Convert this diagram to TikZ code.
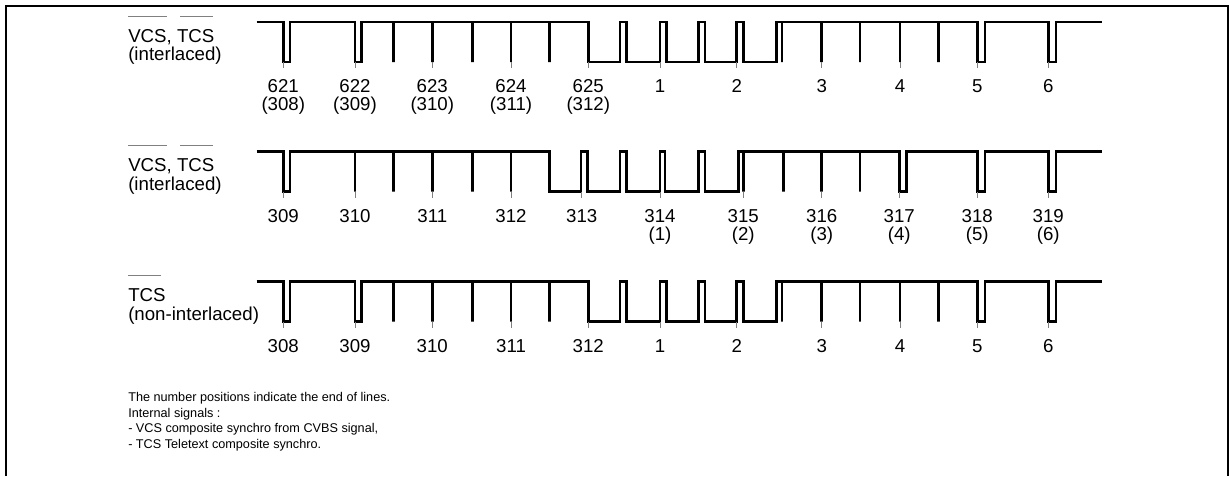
\documentclass[tikz,border=0pt]{standalone}
\usepackage{fontspec}
\setmainfont{Liberation Sans}

\begin{document}
\begin{tikzpicture}[x=0.75pt,y=0.75pt,yscale=-1,xscale=1,
  wave/.style={line width=2.2pt},
  frame/.style={line width=1.6pt},
  tick/.style={color={rgb, 255:red, 128; green, 128; blue, 128}, line width=0.6pt},
  ovl/.style={color={rgb, 255:red, 128; green, 128; blue, 128}, line width=0.75pt},
  num/.style={anchor=base, inner sep=0pt, font=\fontsize{14}{16}\selectfont},
  sig/.style={anchor=base west, inner sep=0pt, font=\fontsize{14}{16}\selectfont},
  note/.style={anchor=base west, inner sep=0pt, font=\fontsize{9.5}{11}\selectfont}]
\useasboundingbox (0,0) rectangle (1229,476);

%Shape: Frame
\draw [frame] (6,476) -- (6,6) -- (1228,6) -- (1228,476) ;

%Straight Lines: VCS, TCS interlaced (621...6)
\draw [wave] (256.7,22) -- (283.3,22) -- (283.3,62) -- (290,62) -- (290,22) -- (355,22) -- (355,62) -- (361.7,62) -- (361.7,22)
  -- (393.3,22) -- (393.3,62) -- (393.3,22) -- (432.3,22) -- (432.3,62) -- (432.3,22) -- (472.3,22) -- (472.3,62) -- (472.3,22)
  -- (511,22) -- (511,62) -- (511,22) -- (549.3,22) -- (549.3,62) -- (549.3,22)
  -- (588.3,22) -- (588.3,62) -- (620,62) -- (620,22) -- (626.7,22) -- (626.7,62) -- (660,62) -- (660,22) -- (666.7,22) -- (666.7,62)
  -- (698.3,62) -- (698.3,22) -- (705,22) -- (705,62) -- (736.7,62) -- (736.7,22) -- (743.3,22) -- (743.3,62) -- (776.7,62) -- (776.7,22)
  -- (782,22) -- (782,62) -- (782,22) -- (821.7,22) -- (821.7,62) -- (821.7,22) -- (860,22) -- (860,62) -- (860,22)
  -- (900,22) -- (900,62) -- (900,22) -- (938.3,22) -- (938.3,62) -- (938.3,22)
  -- (977.3,22) -- (977.3,62) -- (985,62) -- (985,22) -- (1048.3,22) -- (1048.3,62) -- (1056,62) -- (1056,22) -- (1101.7,22) ;
\draw [tick] (283.3,62) -- ++(0,6) (355,62) -- ++(0,6) (432.3,62) -- ++(0,6) (511,62) -- ++(0,6) (588.3,62) -- ++(0,6) (660,62) -- ++(0,6)
  (736.7,62) -- ++(0,6) (821.7,62) -- ++(0,6) (900,62) -- ++(0,6) (977.3,62) -- ++(0,6) (1048.3,62) -- ++(0,6) ;

%Straight Lines: VCS, TCS interlaced (309...319)
\draw [wave] (256.7,151.7) -- (283.3,151.7) -- (283.3,191.7) -- (290,191.7) -- (290,151.7)
  -- (355,151.7) -- (355,191.7) -- (355,151.7) -- (393.3,151.7) -- (393.3,191.7) -- (393.3,151.7)
  -- (432.3,151.7) -- (432.3,191.7) -- (432.3,151.7) -- (472.3,151.7) -- (472.3,191.7) -- (472.3,151.7)
  -- (511,151.7) -- (511,191.7) -- (511,151.7)
  -- (549.3,151.7) -- (549.3,191.7) -- (581,191.7) -- (581,151.7) -- (587.7,151.7) -- (587.7,191.7) -- (620,191.7) -- (620,151.7)
  -- (626.7,151.7) -- (626.7,191.7) -- (660,191.7) -- (660,151.7) -- (665,151.7) -- (665,191.7) -- (698.3,191.7) -- (698.3,151.7)
  -- (705,151.7) -- (705,191.7) -- (738.3,191.7) -- (738.3,151.7) -- (743.3,151.7) -- (743.3,191.7) -- (743.3,151.7)
  -- (783.3,151.7) -- (783.3,191.7) -- (783.3,151.7) -- (821.7,151.7) -- (821.7,191.7) -- (821.7,151.7) -- (860,151.7) -- (860,191.7) -- (860,151.7)
  -- (899.3,151.7) -- (899.3,191.7) -- (906.7,191.7) -- (906.7,151.7) -- (977.3,151.7) -- (977.3,191.7) -- (985,191.7) -- (985,151.7)
  -- (1048.3,151.7) -- (1048.3,191.7) -- (1056,191.7) -- (1056,151.7) -- (1101.7,151.7) ;
\draw [tick] (283.3,191.7) -- ++(0,6) (355,191.7) -- ++(0,6) (432.3,191.7) -- ++(0,6) (511,191.7) -- ++(0,6) (581.7,191.7) -- ++(0,6) (660,191.7) -- ++(0,6)
  (743.3,191.7) -- ++(0,6) (821.7,191.7) -- ++(0,6) (899.3,191.7) -- ++(0,6) (977.3,191.7) -- ++(0,6) (1048.3,191.7) -- ++(0,6) ;

%Straight Lines: TCS non-interlaced (308...6)
\draw [wave] (256.7,281.5) -- (283.3,281.5) -- (283.3,321.5) -- (290,321.5) -- (290,281.5) -- (355,281.5) -- (355,321.5) -- (361.7,321.5) -- (361.7,281.5)
  -- (393.3,281.5) -- (393.3,321.5) -- (393.3,281.5) -- (432.3,281.5) -- (432.3,321.5) -- (432.3,281.5) -- (472.3,281.5) -- (472.3,321.5) -- (472.3,281.5)
  -- (511,281.5) -- (511,321.5) -- (511,281.5) -- (549.3,281.5) -- (549.3,321.5) -- (549.3,281.5)
  -- (588.3,281.5) -- (588.3,321.5) -- (620,321.5) -- (620,281.5) -- (626.7,281.5) -- (626.7,321.5) -- (660,321.5) -- (660,281.5) -- (666.7,281.5) -- (666.7,321.5)
  -- (698.3,321.5) -- (698.3,281.5) -- (705,281.5) -- (705,321.5) -- (736.7,321.5) -- (736.7,281.5) -- (743.3,281.5) -- (743.3,321.5) -- (776.7,321.5) -- (776.7,281.5)
  -- (782,281.5) -- (782,321.5) -- (782,281.5) -- (821.7,281.5) -- (821.7,321.5) -- (821.7,281.5) -- (860,281.5) -- (860,321.5) -- (860,281.5)
  -- (900,281.5) -- (900,321.5) -- (900,281.5) -- (938.3,281.5) -- (938.3,321.5) -- (938.3,281.5)
  -- (977.3,281.5) -- (977.3,321.5) -- (985,321.5) -- (985,281.5) -- (1048.3,281.5) -- (1048.3,321.5) -- (1056,321.5) -- (1056,281.5) -- (1101.7,281.5) ;
\draw [tick] (283.3,321.5) -- ++(0,6) (355,321.5) -- ++(0,6) (432.3,321.5) -- ++(0,6) (511,321.5) -- ++(0,6) (588.3,321.5) -- ++(0,6) (660,321.5) -- ++(0,6)
  (736.7,321.5) -- ++(0,6) (821.7,321.5) -- ++(0,6) (900,321.5) -- ++(0,6) (977.3,321.5) -- ++(0,6) (1048.3,321.5) -- ++(0,6) ;

%Straight Lines: overlines
\draw [ovl] (128,16) -- (166.7,16) (180,16) -- (212.7,16) ;
\draw [ovl] (128,145.7) -- (166.7,145.7) (180,145.7) -- (212.7,145.7) ;
\draw [ovl] (128,275.7) -- (161,275.7) ;

% Text Node
\draw (128,42.7) node (sigA) [sig] {VCS, TCS};
\draw (128,60) node (sigAb) [sig] {(interlaced)};
\draw (128,171.7) node (sigB) [sig] {VCS, TCS};
\draw (128,190) node (sigBb) [sig] {(interlaced)};
\draw (128,301.7) node (sigC) [sig] {TCS};
\draw (128,320) node (sigCb) [sig] {(non-interlaced)};

% Text Node: line numbers, first diagram
\draw (283.3,92.5) node (a621) [num] {621};
\draw (283.3,110) node (a308) [num] {(308)};
\draw (355,92.5) node (a622) [num] {622};
\draw (355,110) node (a309) [num] {(309)};
\draw (432.3,92.5) node (a623) [num] {623};
\draw (432.3,110) node (a310) [num] {(310)};
\draw (511,92.5) node (a624) [num] {624};
\draw (511,110) node (a311) [num] {(311)};
\draw (588.3,92.5) node (a625) [num] {625};
\draw (588.3,110) node (a312) [num] {(312)};
\draw (660,92.5) node (a1) [num] {1};
\draw (736.7,92.5) node (a2) [num] {2};
\draw (821.7,92.5) node (a3) [num] {3};
\draw (900,92.5) node (a4) [num] {4};
\draw (977.3,92.5) node (a5) [num] {5};
\draw (1048.3,92.5) node (a6) [num] {6};

% Text Node: line numbers, second diagram
\draw (283.3,222.5) node (b309) [num] {309};
\draw (355,222.5) node (b310) [num] {310};
\draw (432.3,222.5) node (b311) [num] {311};
\draw (511,222.5) node (b312) [num] {312};
\draw (581.7,222.5) node (b313) [num] {313};
\draw (660,222.5) node (b314) [num] {314};
\draw (660,240) node (b1) [num] {(1)};
\draw (743.3,222.5) node (b315) [num] {315};
\draw (743.3,240) node (b2) [num] {(2)};
\draw (821.7,222.5) node (b316) [num] {316};
\draw (821.7,240) node (b3) [num] {(3)};
\draw (899.3,222.5) node (b317) [num] {317};
\draw (899.3,240) node (b4) [num] {(4)};
\draw (977.3,222.5) node (b318) [num] {318};
\draw (977.3,240) node (b5) [num] {(5)};
\draw (1048.3,222.5) node (b319) [num] {319};
\draw (1048.3,240) node (b6) [num] {(6)};

% Text Node: line numbers, third diagram
\draw (283.3,352.5) node (c308) [num] {308};
\draw (355,352.5) node (c309) [num] {309};
\draw (432.3,352.5) node (c310) [num] {310};
\draw (511,352.5) node (c311) [num] {311};
\draw (588.3,352.5) node (c312) [num] {312};
\draw (660,352.5) node (c1) [num] {1};
\draw (736.7,352.5) node (c2) [num] {2};
\draw (821.7,352.5) node (c3) [num] {3};
\draw (900,352.5) node (c4) [num] {4};
\draw (977.3,352.5) node (c5) [num] {5};
\draw (1048.3,352.5) node (c6) [num] {6};

% Text Node: notes
\draw (128,401.5) node (note1) [note] {The number positions indicate the end of lines.};
\draw (128,417) node (note2) [note] {Internal signals :};
\draw (128,432.5) node (note3) [note] {- VCS composite synchro from CVBS signal,};
\draw (128,448) node (note4) [note] {- TCS Teletext composite synchro.};
\end{tikzpicture}
\end{document}
